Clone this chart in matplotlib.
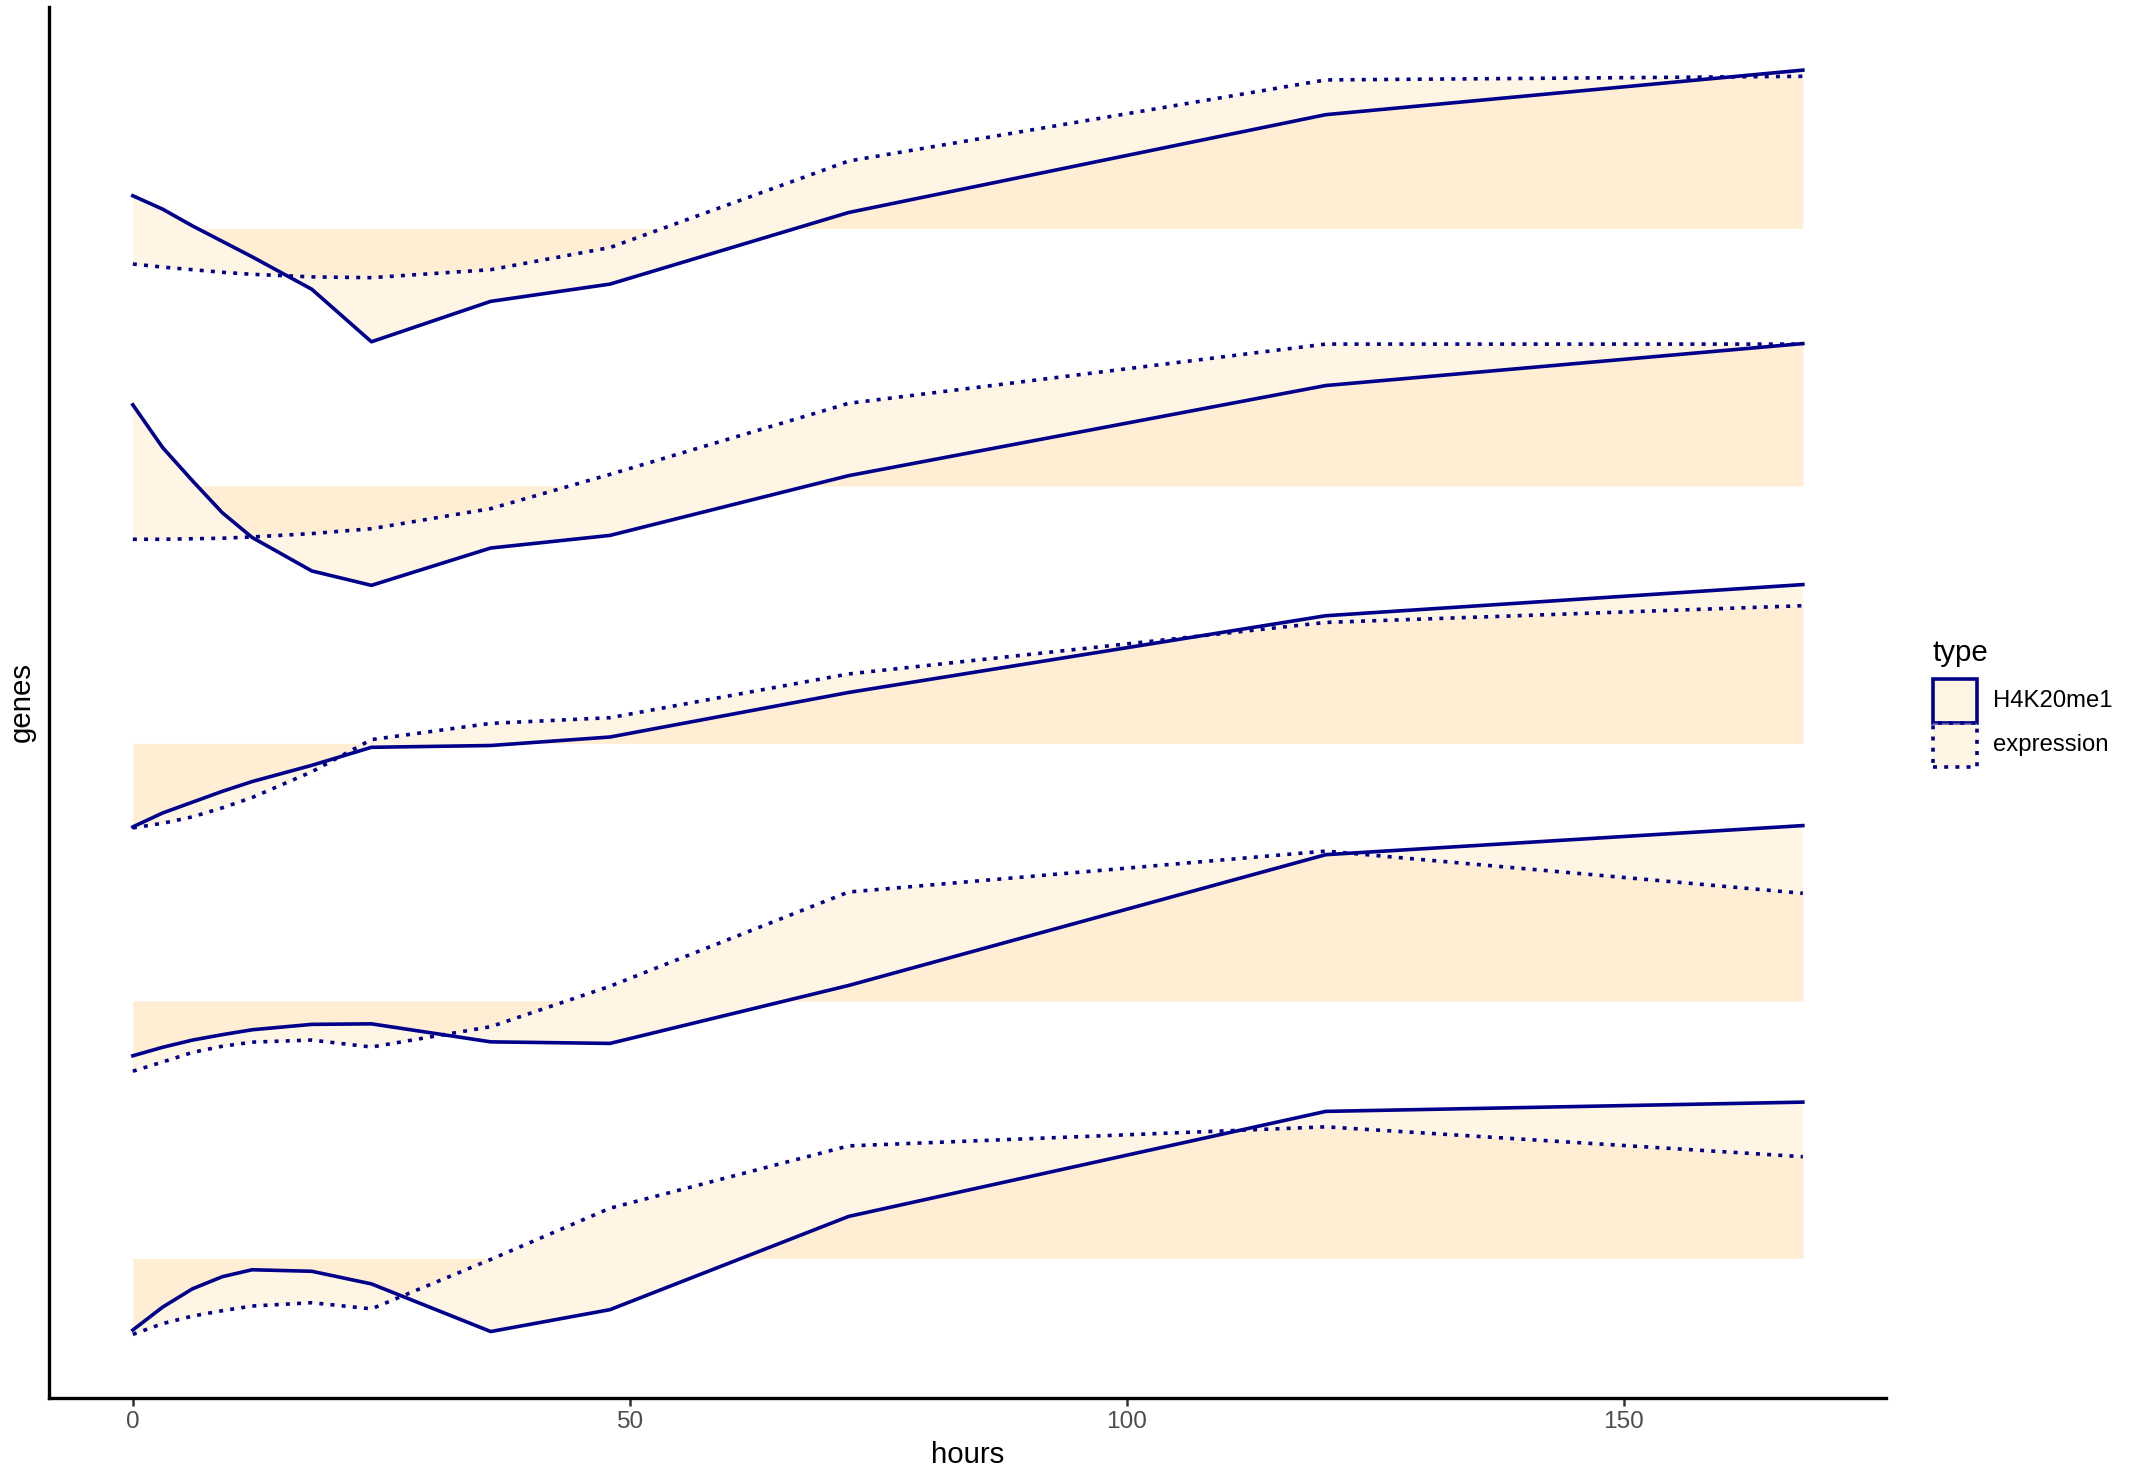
import numpy as np
import matplotlib
matplotlib.use("Agg")
import matplotlib.pyplot as plt
from matplotlib.patches import Rectangle

plt.rcParams['font.family'] = ['Liberation Sans', 'DejaVu Sans']

# DATA

hours = [0, 3, 6, 9, 12, 18, 24, 36, 48, 72, 120, 168]

# gene rows, top to bottom; values are offsets from each gene's baseline
gene_rows = [5, 4, 3, 2, 1]

h4k20me1 = [
    [0.127, 0.075, 0.01, -0.05, -0.11, -0.236, -0.440, -0.283, -0.216, 0.062, 0.442, 0.615],
    [0.315, 0.149, 0.02, -0.104, -0.20, -0.33, -0.386, -0.241, -0.192, 0.040, 0.390, 0.553],
    [-0.324, -0.27, -0.228, -0.186, -0.148, -0.085, -0.015, -0.008, 0.025, 0.198, 0.496, 0.617],
    [-0.213, -0.180, -0.152, -0.131, -0.112, -0.091, -0.089, -0.159, -0.165, 0.060, 0.568, 0.681],
    [-0.278, -0.189, -0.118, -0.071, -0.044, -0.050, -0.099, -0.284, -0.199, 0.163, 0.571, 0.607],
]

expression = [
    [-0.138, -0.15, -0.16, -0.17, -0.178, -0.188, -0.191, -0.160, -0.074, 0.262, 0.577, 0.591],
    [-0.207, -0.207, -0.205, -0.203, -0.198, -0.185, -0.166, -0.088, 0.045, 0.321, 0.551, 0.551],
    [-0.328, -0.31, -0.285, -0.25, -0.21, -0.11, 0.015, 0.078, 0.10, 0.27, 0.47, 0.535],
    [-0.273, -0.237, -0.20, -0.176, -0.16, -0.152, -0.179, -0.10, 0.057, 0.423, 0.582, 0.418],
    [-0.295, -0.253, -0.224, -0.203, -0.185, -0.172, -0.196, -0.004, 0.195, 0.437, 0.511, 0.395],
]

type_labels = ["H4K20me1", "expression"]
x_ticks = [0, 50, 100, 150]

# PLOT

LINE = "#00008B"
FILL = "#FFE4B5"
ALPHA = 0.36
DOTTED = (0, (1.1, 2.0))

fig = plt.figure(figsize=(2137 / 200, 1473 / 200), dpi=200)
ax = fig.add_axes([0.0231, 0.0512, 0.8596, 0.9441])

x = np.array(hours)
for row, h, e in zip(gene_rows, h4k20me1, expression):
    h = row + np.array(h)
    e = row + np.array(e)
    ax.fill_between(x, row, h, color=FILL, alpha=ALPHA, lw=0)
    ax.fill_between(x, row, e, color=FILL, alpha=ALPHA, lw=0)
    ax.plot(x, h, color=LINE, lw=1.3, ls="-")
    ax.plot(x, e, color=LINE, lw=1.3, ls=DOTTED, dash_capstyle="butt")

series = h4k20me1 + expression
rows2 = gene_rows * 2
lo = min(min(r + v for v in s) for r, s in zip(rows2, series))
hi = max(max(r + v for v in s) for r, s in zip(rows2, series))
pad = (hi - lo) * 0.05
ax.set_ylim(lo - pad, hi + pad)
xpad = (max(hours) - min(hours)) * 0.05
ax.set_xlim(min(hours) - xpad, max(hours) + xpad)

for side in ["top", "right"]:
    ax.spines[side].set_visible(False)
for side in ["left", "bottom"]:
    ax.spines[side].set_linewidth(1.2)
    ax.spines[side].set_color("black")

ax.set_yticks([])
ax.set_xticks(x_ticks)
ax.tick_params(axis="x", length=2.75, width=0.9, color="#333333",
               labelcolor="#4D4D4D", labelsize=8.8, pad=2.2)
ax.set_xlabel("hours", fontsize=10.6, labelpad=2.75)
ax.set_ylabel("genes", fontsize=10.6, labelpad=5)

# legend
fig.text(0.9045, 0.557, "type", fontsize=10.6, va="center", ha="left")
kx, kw, kh = 0.9045, 0.0205, 0.0300
for i, (lab, ls) in enumerate(zip(type_labels, ["-", DOTTED])):
    ky = 0.509 - i * kh
    fig.patches.append(Rectangle((kx, ky), kw, kh, transform=fig.transFigure,
                                 facecolor=FILL, alpha=ALPHA, lw=0))
    fig.patches.append(Rectangle((kx, ky), kw, kh, transform=fig.transFigure,
                                 facecolor="none", edgecolor=LINE, lw=1.3, ls=ls))
    fig.text(0.9325, ky + kh / 2, lab, fontsize=8.6, va="center", ha="left")

fig.savefig("out.png", dpi=200, facecolor="white")
